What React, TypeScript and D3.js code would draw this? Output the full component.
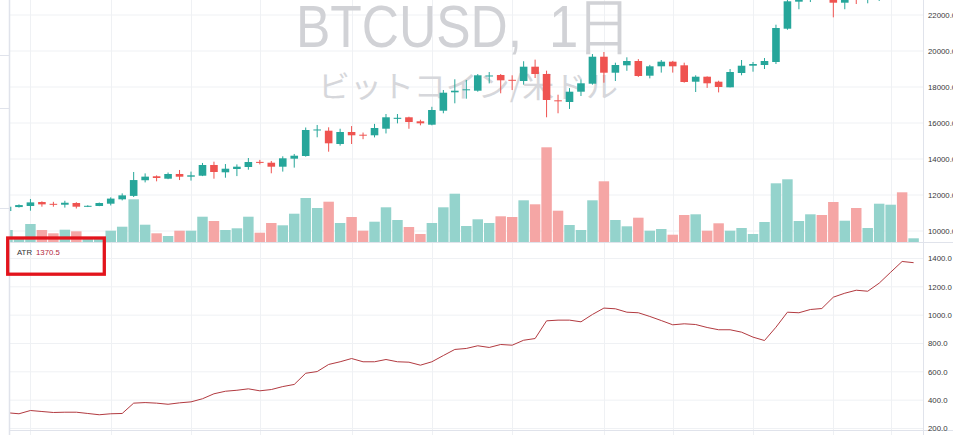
import React from "react";
import * as d3 from "d3";

const opens = [11110,11330,11390,11610,11510,11460,11555,11350,11390,11517,11760,11950,12820,13040,12906,13167,13017,13072,13667,13261,13444,13556,13840,13794,13572,14017,14167,15600,15572,14833,15500,15350,15317,15683,16230,16317,16094,15906,16683,17705,17817,17794,18600,18667,18400,18333,19128,18722,17260,17167,17739,18183,19683,18794,19205,19444,18628,19150,19406,19205,18294,18572,18294,17983,18778,19183,19222,19389,21239,22740,22900,23300,23200,22683,23200,23000,23100,23400,23700,23300];
const highs = [11400,11480,11778,11650,11620,11680,11600,11430,11580,11870,12090,13278,13200,13090,13250,13390,13300,13780,13850,13720,13700,14055,13950,13890,14150,14280,15750,15890,15760,15680,15830,15470,15950,16500,16500,16350,16180,16900,17833,18428,18390,18720,18830,18720,18650,19430,19520,18906,17572,17940,18420,19830,19944,19350,19650,19550,19230,19500,19450,19350,18650,18590,18350,19000,19500,19390,19610,21461,22850,23100,23300,23600,23400,23200,23400,23500,23600,23800,24000,23500];
const lows = [11050,11300,11128,11350,11350,11300,11250,11330,11380,11420,11700,11889,12700,12760,12880,12830,12800,13050,12906,12960,13050,13406,13700,13206,13300,13520,14130,15206,14406,14740,14833,15100,15200,15420,15980,15680,15870,15870,16540,17094,17350,17740,18200,17650,17830,18130,18500,16317,16540,16780,17500,18130,18240,18333,18900,18560,18480,18800,18800,18240,17722,17950,17700,17980,18650,18850,19000,19278,21180,22320,22720,22950,21870,22320,22610,22650,22780,23000,23000,23200];
const closes = [11350,11440,11590,11480,11490,11570,11350,11400,11555,11800,11980,12830,13020,12945,13167,13017,13094,13667,13278,13461,13572,13833,13800,13572,14039,14183,15611,15640,14872,15500,15317,15300,15722,16317,16290,16055,15983,16722,17683,17794,17872,18650,18640,18372,18370,19128,18722,17278,17220,17739,18206,19683,18794,19222,19444,18611,19150,19406,19150,18278,18572,18206,18000,18833,19183,19278,19444,21278,22761,22950,23100,23100,22683,23000,22950,23300,23400,23600,23300,23400];
const volumes = [12,4,18,12,8.7,12.3,10.7,5,5,11.3,15.3,42.7,17.3,8.7,6,11.3,11.3,25.3,21,12,13.7,25.3,9.3,19,16.7,28.3,44,34,40.3,19,25,11.3,20.3,34.7,22,15,8,19,34.7,48.3,16,22.7,19,25.7,25,41.7,37.7,94.7,31.3,17,12,41.7,60.7,22,15.7,24.3,11.3,13,7.3,27,27.7,11.3,18.7,11.3,14,8,20,58.7,62.7,21,27.7,27,40,21.3,34,14,38.3,37.3,49.7,3.7];
const atrValues = [311,304,327,320,313,315,315,306,297,304,306,379,383,379,371,381,388,410,445,463,470,480,466,475,496,511,590,602,652,671,694,671,671,687,671,668,647,671,715,758,765,784,772,793,788,823,835,960,965,965,953,1005,1050,1045,1021,1017,991,962,932,939,934,913,897,897,880,845,821,915,1021,1017,1040,1047,1127,1155,1176,1169,1226,1303,1379,1370.5];
const priceTicks = [10000,12000,14000,16000,18000,20000,22000];
const atrTicks = [200,400,600,800,1000,1200,1400];
const gridIndices = [2,9,16,22,30,37,44,52,58,65,72,77];
const titleSymbol = "BTCUSD,";
const titleInterval = "1日";
const subtitleText = "ビットコイン/米ドル";
const atrName = "ATR";
const atrLast = "1370.5";

const W = 953, H = 435;
const L = 10, R = 923;
const MAIN_BOTTOM = 242;
const ATR_TOP = 243, ATR_BOTTOM = 430;
const UP = "#26a69a", DOWN = "#ef5350";
const UPV = "#94d3cc", DOWNV = "#f5a6a5";
const FONT = "'Liberation Sans', Arial, sans-serif";

export default function App() {
  const n = opens.length;
  const x = d3.scaleLinear().domain([0, n - 1]).range([7.5, 913.6]);
  const step = x(1) - x(0);
  const y = d3.scaleLinear().domain([10000, 22000]).range([231, 15]);
  const yv = d3.scaleLinear().domain([0, 100]).range([MAIN_BOTTOM, MAIN_BOTTOM - 100]);
  const ya = d3.scaleLinear().domain([200, 1400]).range([428.5, 258.5]);
  const atrLine = d3.line<number>().x((_, i) => x(i)).y((d) => ya(d));
  const bodyW = 7.6;

  return (
    <svg width={W} height={H} style={{ position: "absolute", left: 0, top: 0, background: "#fff" }}>
      <defs>
        <clipPath id="mainClip"><rect x={L} y={0} width={R - L} height={MAIN_BOTTOM} /></clipPath>
        <clipPath id="atrClip"><rect x={L} y={ATR_TOP} width={R - L} height={ATR_BOTTOM - ATR_TOP} /></clipPath>
      </defs>
      <rect x={0} y={0} width={W} height={H} fill="#fff" />
      {priceTicks.map((t) => (
        <line key={"hg" + t} x1={L} x2={R} y1={y(t)} y2={y(t)} stroke="#eff1f4" strokeWidth={1} />
      ))}
      {atrTicks.map((t) => (
        <line key={"ag" + t} x1={L} x2={R} y1={ya(t)} y2={ya(t)} stroke="#eff1f4" strokeWidth={1} />
      ))}
      {gridIndices.map((i) => (
        <line key={"vg" + i} x1={Math.round(x(i)) + 0.5} x2={Math.round(x(i)) + 0.5} y1={0} y2={H} stroke="#eff1f4" strokeWidth={1} />
      ))}
      <text x={296} y={46.5} fontFamily={FONT} fontSize={60} fill="#d1d2d6" textLength={226} lengthAdjust="spacingAndGlyphs">{titleSymbol}</text>
      <text x={549} y={46.5} fontFamily={FONT} fontSize={60} fill="#d1d2d6" textLength={82} lengthAdjust="spacingAndGlyphs">{titleInterval}</text>
      <text x={318} y={97} fontFamily="'Noto Sans CJK JP', sans-serif" fontSize={30} fill="#d6d7db" textLength={300} lengthAdjust="spacingAndGlyphs">{subtitleText}</text>
      <g clipPath="url(#mainClip)">
        {volumes.map((v, i) => (
          <rect key={"v" + i} x={x(i) - (step - 1) / 2} y={yv(v)} width={step - 1} height={MAIN_BOTTOM - yv(v)} fill={closes[i] >= opens[i] ? UPV : DOWNV} />
        ))}
        {opens.map((o, i) => {
          const c = closes[i];
          const col = c >= o ? UP : DOWN;
          const top = y(Math.max(o, c));
          const bot = y(Math.min(o, c));
          return (
            <g key={"c" + i}>
              <line x1={x(i)} x2={x(i)} y1={y(highs[i])} y2={y(lows[i])} stroke={col} strokeWidth={1} />
              <rect x={x(i) - bodyW / 2} y={top} width={bodyW} height={Math.max(1, bot - top)} fill={col} />
            </g>
          );
        })}
      </g>
      <g clipPath="url(#atrClip)">
        <path d={atrLine(atrValues) || ""} fill="none" stroke="#b23a40" strokeWidth={1} />
      </g>
      <line x1={L} x2={W} y1={MAIN_BOTTOM + 0.5} y2={MAIN_BOTTOM + 0.5} stroke="#e0e3eb" strokeWidth={1} />
      <line x1={L} x2={W} y1={ATR_BOTTOM + 0.5} y2={ATR_BOTTOM + 0.5} stroke="#e0e3eb" strokeWidth={1} />
      <line x1={R + 0.5} x2={R + 0.5} y1={0} y2={H} stroke="#e0e3eb" strokeWidth={1} />
      <line x1={9.5} x2={9.5} y1={0} y2={H} stroke="#e0e3eb" strokeWidth={1.5} />
      {[55, 108, 208].map((yy) => (
        <line key={"lt" + yy} x1={0} x2={9} y1={yy + 0.5} y2={yy + 0.5} stroke="#e0e3eb" strokeWidth={1} />
      ))}
      {priceTicks.map((t) => (
        <text key={"pl" + t} x={928} y={y(t)} dy="0.35em" fontFamily={FONT} fontSize={7.8} fill="#3a3a3a">{d3.format(".1f")(t)}</text>
      ))}
      {atrTicks.map((t) => (
        <text key={"al" + t} x={928} y={ya(t)} dy="0.35em" fontFamily={FONT} fontSize={7.8} fill="#3a3a3a">{d3.format(".1f")(t)}</text>
      ))}
      <text x={17} y={252.5} dy="0.35em" fontFamily={FONT} fontSize={7.8} fill="#333">{atrName}</text>
      <text x={36} y={252.5} dy="0.35em" fontFamily={FONT} fontSize={7.8} fill="#b2283a">{atrLast}</text>
      <rect x={7.7} y={238} width={96.6} height={36.2} fill="none" stroke="#e3141c" strokeWidth={3.3} />
    </svg>
  );
}
